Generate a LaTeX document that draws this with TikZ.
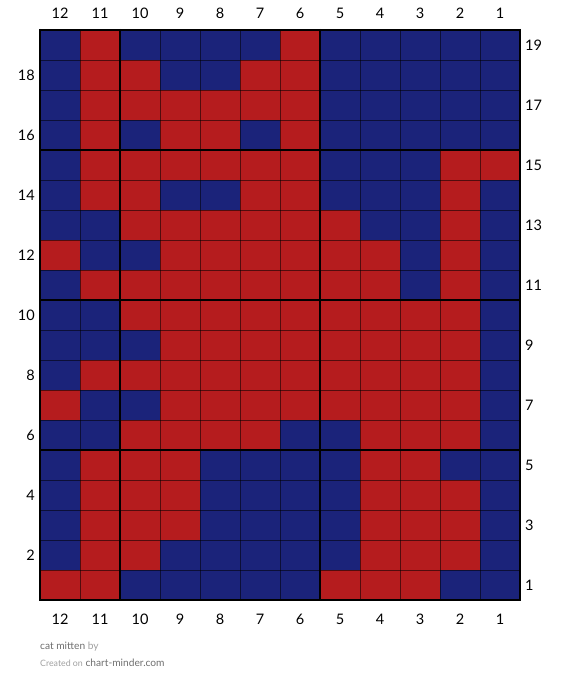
\documentclass[tikz,border=0pt]{standalone}
\usepackage{fontspec}
\setmainfont{Lato}
\usepackage{tikz}
\usetikzlibrary{positioning}
\definecolor{cl0}{RGB}{27,35,122}
\definecolor{cl1}{RGB}{181,28,30}
\definecolor{footdark}{RGB}{110,110,110}
\definecolor{footlight}{RGB}{160,160,160}

\begin{document}
\begin{tikzpicture}[
    x=1pt, y=-1pt,
    thin line/.style={draw=black, draw opacity=0.55, line width=0.6pt},
    thick line/.style={draw=black, line width=2pt},
    num/.style={font=\fontsize{14.5}{16}\selectfont, inner sep=0pt},
    foot/.style={font=\fontsize{10.2}{12}\selectfont, inner sep=0pt, anchor=base west},
]
\useasboundingbox (0,0) rectangle (560,693);
% cells, row by row (columns 12 ... 1), 0 = blue, 1 = red
\foreach \r/\cells in {
    19/{0,1,0,0,0,0,1,0,0,0,0,0},
    18/{0,1,1,0,0,1,1,0,0,0,0,0},
    17/{0,1,1,1,1,1,1,0,0,0,0,0},
    16/{0,1,0,1,1,0,1,0,0,0,0,0},
    15/{0,1,1,1,1,1,1,0,0,0,1,1},
    14/{0,1,1,0,0,1,1,0,0,0,1,0},
    13/{0,0,1,1,1,1,1,1,0,0,1,0},
    12/{1,0,0,1,1,1,1,1,1,0,1,0},
    11/{0,1,1,1,1,1,1,1,1,0,1,0},
    10/{0,0,1,1,1,1,1,1,1,1,1,0},
    9/{0,0,0,1,1,1,1,1,1,1,1,0},
    8/{0,1,1,1,1,1,1,1,1,1,1,0},
    7/{1,0,0,1,1,1,1,1,1,1,1,0},
    6/{0,0,1,1,1,1,0,0,1,1,1,0},
    5/{0,1,1,1,0,0,0,0,1,1,0,0},
    4/{0,1,1,1,0,0,0,0,1,1,1,0},
    3/{0,1,1,1,0,0,0,0,1,1,1,0},
    2/{0,1,1,0,0,0,0,0,1,1,1,0},
    1/{1,1,0,0,0,0,0,1,1,1,0,0}} {
  \foreach \c [count=\i] in \cells
    \fill[cl\c] ({40+(\i-1)*40},{30+(19-\r)*30}) rectangle ++(40,30);
}
% thin grid
\foreach \i in {1,...,11}
  \draw[thin line] ({40+\i*40},30) -- ({40+\i*40},600);
\foreach \j in {1,...,18}
  \draw[thin line] (40,{30+\j*30}) -- (520,{30+\j*30});
% thick grid
\foreach \xx in {40,120,320,520}
  \draw[thick line] (\xx,29) -- (\xx,601);
\foreach \yy in {30,150,300,450,600}
  \draw[thick line] (39,\yy) -- (521,\yy);
% column numbers
\foreach \i in {1,...,12} {
  \pgfmathtruncatemacro{\lab}{13-\i}
  \node[num] (top\lab) at ({20+\i*40},13) {\lab};
  \node[num] (bot\lab) at ({20+\i*40},619) {\lab};
}
% row numbers, even on the left, odd on the right
\foreach \r in {2,4,...,18}
  \node[num, anchor=east] (left\r) at (35,{45+(19-\r)*30}) {\r};
\foreach \r in {1,3,...,19}
  \node[num, anchor=west] (right\r) at (525,{45+(19-\r)*30}) {\r};
% footer
\node[foot] (title) at (40,649) {\textcolor{footdark}{cat mitten} \textcolor{footlight}{by}};
\node[foot] (credit) at (40,666) {\textcolor{footlight}{\fontsize{8.8}{10}\selectfont Created on} \textcolor{footdark}{chart-minder.com}};
\end{tikzpicture}
\end{document}
